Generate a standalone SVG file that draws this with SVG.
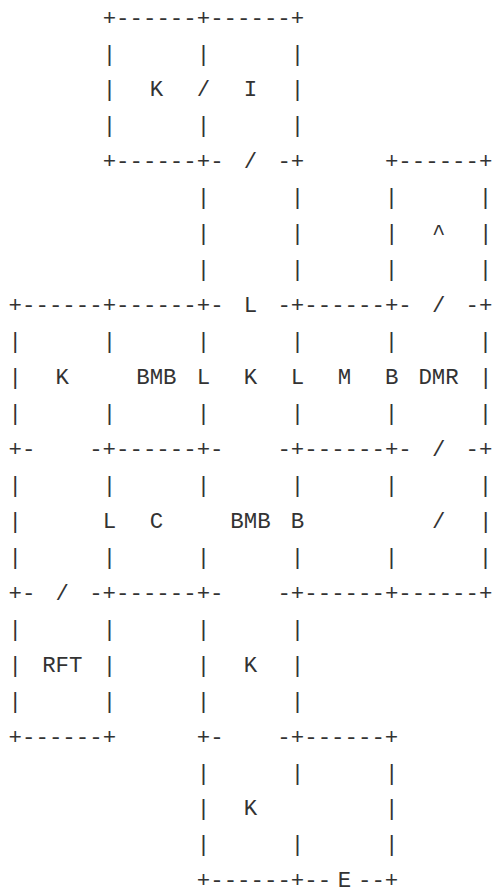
<svg xmlns="http://www.w3.org/2000/svg" width="493" height="893" viewBox="0 0 493 893">
<style>
text{font-family:"Liberation Mono","Courier New",monospace;font-size:22.4px;fill:#333;white-space:pre}
.l{text-anchor:middle}
</style>
<rect width="493" height="893" fill="#fff"/>
<g id="grid" xml:space="preserve">
<text x="102.7" y="24.5">+------+------+</text>
<text x="8.6" y="60.5">       |      |      |</text>
<text x="102.7" y="96.4">|</text><text x="196.8" y="96.4">/</text><text x="290.8" y="96.4">|</text>
<text x="8.6" y="132.4">       |      |      |</text>
<text x="102.7" y="168.3">+------+-</text><text x="277.4" y="168.3">-+</text><text x="384.9" y="168.3">+------+</text>
<text x="8.6" y="204.3">              |      |      |      |</text>
<text x="196.8" y="240.2">|      |      |</text><text x="479" y="240.2">|</text>
<text x="8.6" y="276.2">              |      |      |      |</text>
<text x="8.6" y="312.1">+------+------+-</text><text x="277.4" y="312.1">-+------+-</text><text x="465.6" y="312.1">-+</text>
<text x="8.6" y="348.1">|      |      |      |      |      |</text>
<text x="8.6" y="384">|</text><text x="196.8" y="384">L</text><text x="290.8" y="384">L</text><text x="384.9" y="384">B</text><text x="479" y="384">|</text>
<text x="8.6" y="420">|      |      |      |      |      |</text>
<text x="8.6" y="455.9">+-</text><text x="89.2" y="455.9">-+------+-</text><text x="277.4" y="455.9">-+------+-</text><text x="465.6" y="455.9">-+</text>
<text x="8.6" y="491.9">|      |      |      |      |      |</text>
<text x="8.6" y="527.8">|</text><text x="102.7" y="527.8">L</text><text x="290.8" y="527.8">B</text><text x="479" y="527.8">|</text>
<text x="8.6" y="563.8">|      |      |      |      |      |</text>
<text x="8.6" y="599.7">+-</text><text x="89.2" y="599.7">-+------+-</text><text x="277.4" y="599.7">-+------+------+</text>
<text x="8.6" y="635.7">|      |      |      |</text>
<text x="8.6" y="671.6">|</text><text x="102.7" y="671.6">|      |</text><text x="290.8" y="671.6">|</text>
<text x="8.6" y="707.6">|      |      |      |</text>
<text x="8.6" y="743.5">+------+      +-    -+------+</text>
<text x="196.8" y="779.5">|      |      |</text>
<text x="196.8" y="815.4">|</text><text x="384.9" y="815.4">|</text>
<text x="196.8" y="851.4">|      |      |</text>
<text x="196.8" y="887.3">+------+--</text><text x="358" y="887.3">--+</text>
</g>
<g id="labels">
<text class="l" x="156.4" y="96.4">K</text>
<text class="l" x="250.5" y="96.4">I</text>
<text class="l" x="250.5" y="168.3">/</text>
<text class="l" x="438.6" y="240.2">^</text>
<text class="l" x="250.5" y="312.1">L</text>
<text class="l" x="438.6" y="312.1">/</text>
<text class="l" x="62.3" y="384">K</text>
<text class="l" x="156.4" y="384">BMB</text>
<text class="l" x="250.5" y="384">K</text>
<text class="l" x="344.5" y="384">M</text>
<text class="l" x="438.6" y="384">DMR</text>
<text class="l" x="438.6" y="455.9">/</text>
<text class="l" x="156.4" y="527.8">C</text>
<text class="l" x="250.5" y="527.8">BMB</text>
<text class="l" x="438.6" y="527.8">/</text>
<text class="l" x="62.3" y="599.7">/</text>
<text class="l" x="62.3" y="671.6">RFT</text>
<text class="l" x="250.5" y="671.6">K</text>
<text class="l" x="250.5" y="815.4">K</text>
<text class="l" x="344.5" y="887.3">E</text>
</g>
</svg>
